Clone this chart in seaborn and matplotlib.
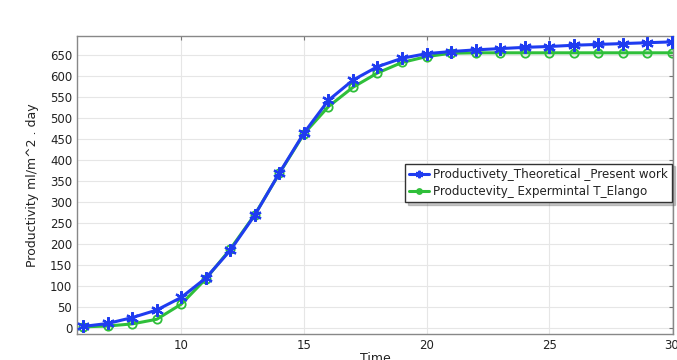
import numpy as np
import pandas as pd
import matplotlib
matplotlib.use("Agg")
import matplotlib.pyplot as plt
import seaborn as sns

time = [6, 7, 8, 9, 10, 11, 12, 13, 14, 15, 16, 17, 18, 19, 20, 21, 22, 23, 24, 25, 26, 27, 28, 29, 30]
theoretical = [4, 11, 25, 43, 73, 119, 185, 269, 369, 464, 542, 590, 622, 642, 653, 658, 662, 665, 668, 670, 673, 675, 677, 679, 681]
experimental = [3, 5, 10, 21, 57, 117, 188, 270, 368, 462, 527, 573, 607, 632, 646, 654, 655, 655, 655, 655, 655, 655, 655, 655, 655]
label_theo = "Productivety_Theoretical _Present work"
label_exp = "Productevity_ Expermintal T_Elango"

sns.set_style("white")
plt.rcParams['font.family'] = ['DejaVu Sans']

fig = plt.figure(figsize=(6.77, 3.6), dpi=100)
ax = fig.add_axes([77/677, 26/360, 596/677, 298/360])

blue = "#1f3cf0"
green = "#2fbf3a"

sns.lineplot(x=time, y=theoretical, ax=ax, color=blue, lw=2.2, marker=(6, 2, 0),
             markersize=9, markeredgewidth=1.6, markeredgecolor=blue, label=label_theo, zorder=3)
sns.lineplot(x=time, y=experimental, ax=ax, color=green, lw=2.2, marker='o',
             markersize=6, markeredgewidth=1.3, markerfacecolor='none', markeredgecolor=green,
             label=label_exp, zorder=2)

ax.set_xlim(5.75, 30.05)
ax.set_ylim(-14, 695)
ax.set_xticks([10, 15, 20, 25, 30])
ax.set_yticks(np.arange(0, 651, 50))
ax.grid(True, color="#e6e6e6", lw=0.8)
ax.tick_params(direction='in', length=3, color="#777777", labelsize=8.5, labelcolor="#222222",
               top=True, right=True, labelright=False, labeltop=False)
for s in ax.spines.values():
    s.set_color("#888888")
    s.set_linewidth(1.0)

ax.set_xlabel("Time", fontsize=9, color="#222222", labelpad=0)
ax.set_ylabel("Productivity ml/m^2 . day", fontsize=9, color="#222222", labelpad=8)

leg = ax.legend(loc='upper right', bbox_to_anchor=(0.999, 0.572), fontsize=8.6, frameon=True,
                fancybox=False, shadow={'color': '#666666', 'alpha': 0.35}, borderpad=0.35,
                labelspacing=0.35, handlelength=1.6, handletextpad=0.4, borderaxespad=0.0,
                markerscale=0.6)
leg.get_frame().set_edgecolor("#333333")
leg.get_frame().set_linewidth(1.0)
for t in leg.get_texts():
    t.set_color("#222222")

fig.savefig("out.png", dpi=100)
